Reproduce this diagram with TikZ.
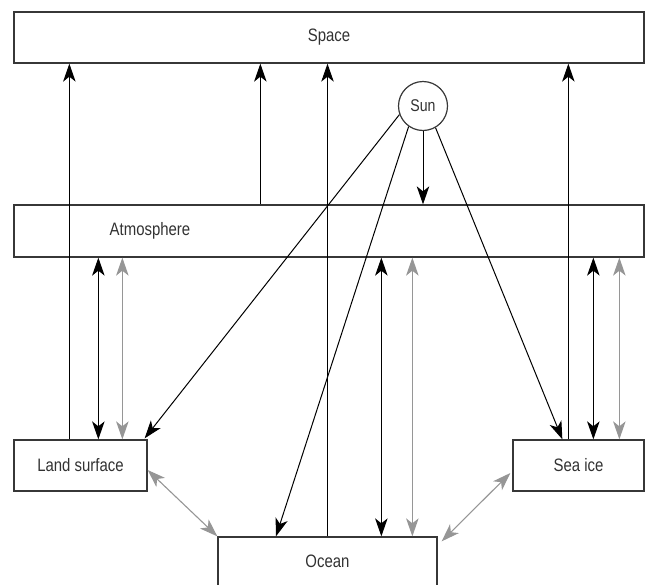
\documentclass[tikz,border=0pt]{standalone}
\usepackage{fontspec}
\setmainfont{Liberation Sans}[FakeStretch=0.83]
\usetikzlibrary{arrows.meta,calc}
\definecolor{boxc}{RGB}{55,55,55}
\definecolor{txtc}{RGB}{50,50,50}
\definecolor{grayc}{RGB}{150,150,150}
\begin{document}
\begin{tikzpicture}[x=1pt,y=-1pt,
  box/.style={draw=boxc, line width=1.3pt, rectangle, inner sep=0pt, text=txtc, font=\fontsize{18}{21}\selectfont},
  lab/.style={text=txtc, font=\fontsize{18}{21}\selectfont, inner sep=0pt},
  tip/.tip={Stealth[length=18pt,width=12.5pt,inset=5pt]},
  flow/.style={line width=1pt, draw=black, -tip},
  both/.style={line width=1pt, draw=black, tip-tip},
  gboth/.style={line width=1.1pt, draw=grayc, tip-tip}]
\useasboundingbox (0,0) rectangle (645,584);

\node[box, minimum width=630pt, minimum height=51pt] (space) at (329,37.5) {Space};
\node[box, minimum width=630pt, minimum height=52pt] (atm) at (329,231) {};
\node[lab] (atmtext) at (150,231) {Atmosphere};
\node[box, minimum width=133pt, minimum height=51pt] (land) at (80.5,465.5) {Land surface};
\node[box, minimum width=131pt, minimum height=51pt] (seaice) at (578.5,465.5) {Sea ice};
\node[box, minimum width=219pt, minimum height=49pt] (ocean) at (327.5,561.5) {Ocean};
\node[circle, draw=boxc, line width=1.2pt, minimum size=49pt, inner sep=0pt, text=txtc, font=\fontsize{17}{20}\selectfont] (sun) at (423,106) {Sun};

% to space
\coordinate (ls) at ($(land.north west)+(56,0)$);
\draw[flow] (ls) -- (ls |- space.south);
\coordinate (as) at ($(atm.north west)+(247,0)$);
\draw[flow] (as) -- (as |- space.south);
\draw[flow] (ocean.north) -- (ocean.north |- space.south);
\coordinate (ss) at ($(seaice.north west)+(56,0)$);
\draw[flow] (ss) -- (ss |- space.south);

% sun
\draw[flow] (sun.south) -- (sun.south |- atm.north);
\draw[flow] (sun.200) -- ($(land.north east)+(-3,-1)$);
\draw[flow] (sun.235) -- ($(ocean.north)+(-51.5,0)$);
\draw[flow] (sun.300) -- ($(seaice.north west)+(50,0)$);

% atmosphere exchanges
\coordinate (la1) at ($(land.north west)+(85,0)$);
\coordinate (la2) at ($(land.north west)+(109,0)$);
\draw[both] (la1 |- atm.south) -- (la1);
\draw[gboth] (la2 |- atm.south) -- (la2);
\coordinate (oa1) at ($(ocean.north west)+(164,0)$);
\coordinate (oa2) at ($(ocean.north west)+(195,0)$);
\draw[both] (oa1 |- atm.south) -- (oa1);
\draw[gboth] (oa2 |- atm.south) -- (oa2);
\coordinate (sa1) at ($(seaice.north west)+(81,0)$);
\coordinate (sa2) at ($(seaice.north west)+(107,0)$);
\draw[both] (sa1 |- atm.south) -- (sa1);
\draw[gboth] (sa2 |- atm.south) -- (sa2);

% surface exchanges with ocean
\draw[gboth] ($(land.east)+(0,4.5)$) -- (ocean.north west);
\draw[gboth] ($(seaice.west)+(-2,7.5)$) -- ($(ocean.north east)+(4,5)$);
\end{tikzpicture}
\end{document}
